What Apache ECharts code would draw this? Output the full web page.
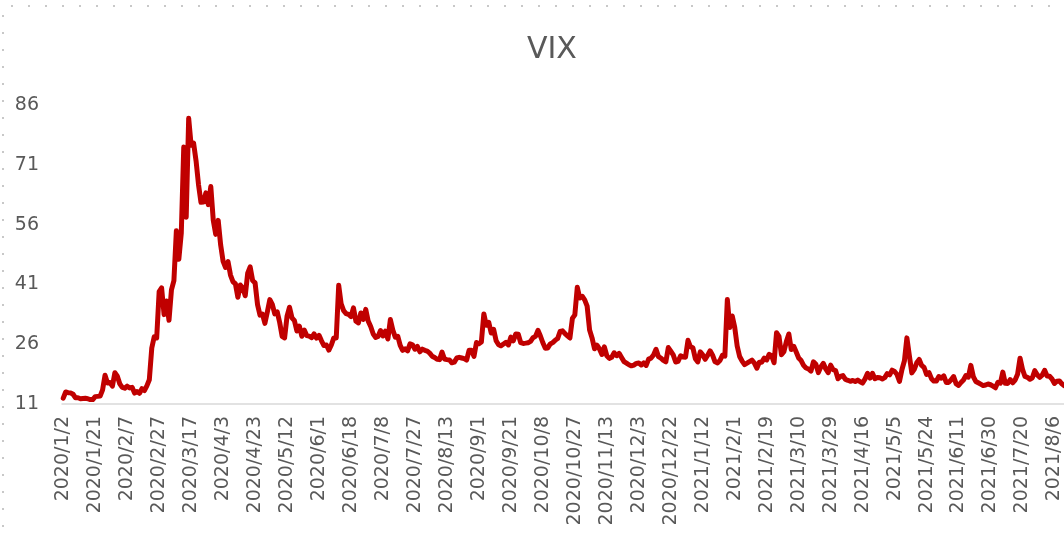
<!DOCTYPE html>
<html>
<head>
<meta charset="utf-8">
<script src="https://cdn.jsdelivr.net/npm/echarts@6/dist/echarts.min.js"></script>
<style>
  html, body { margin: 0; padding: 0; background: #fff; }
  #chart { width: 1064px; height: 541px; }
</style>
</head>
<body>
<div id="chart"></div>
<script>
// VIX daily close, one array per month (2020/1/20 is in the source series too)
const vix2020_01 = [12.47, 14.02, 13.85, 13.79, 13.45, 12.54, 12.56, 12.32, 12.39, 12.42, 12.32, 12.10, 12.10, 12.85, 12.91, 12.98, 14.56, 18.23, 16.28, 16.39, 15.49, 18.84];
const vix2020_02 = [17.97, 16.05, 15.15, 14.96, 15.47, 15.04, 15.18, 13.74, 14.15, 13.68, 14.83, 14.38, 15.56, 17.08, 25.03, 27.85, 27.56, 39.16, 40.11];
const vix2020_03 = [33.42, 36.82, 31.99, 39.62, 41.94, 54.46, 47.30, 53.90, 75.47, 57.83, 82.69, 75.91, 76.45, 72.00, 66.04, 61.59, 61.67, 63.95, 61.00, 65.54, 57.08, 53.54];
const vix2020_04 = [57.06, 50.91, 46.80, 45.24, 46.70, 43.35, 41.67, 41.17, 37.76, 40.84, 40.11, 38.15, 43.83, 45.41, 41.98, 41.38, 35.93, 33.29, 33.57, 31.23, 34.15];
const vix2020_05 = [37.19, 35.97, 33.61, 34.12, 31.44, 27.98, 27.57, 33.04, 35.28, 32.61, 31.89, 29.30, 30.53, 27.99, 29.53, 28.16, 28.01, 27.62, 28.59, 27.51];
const vix2020_06 = [28.23, 26.84, 25.66, 25.81, 24.52, 25.81, 27.57, 27.57, 40.79, 36.09, 34.40, 33.67, 33.47, 32.94, 35.12, 31.77, 31.37, 33.84, 32.22, 34.73, 31.78, 30.43];
const vix2020_07 = [28.62, 27.68, 27.94, 29.43, 28.08, 29.26, 27.29, 32.19, 29.52, 27.76, 28.00, 25.68, 24.46, 24.84, 24.32, 26.08, 25.84, 24.74, 25.44, 24.10, 24.76, 24.46];
const vix2020_08 = [24.28, 23.76, 22.99, 22.65, 22.21, 22.13, 24.03, 22.28, 22.13, 22.05, 21.35, 21.51, 22.54, 22.72, 22.54, 22.37, 22.03, 24.47, 24.47, 22.96, 26.41];
const vix2020_09 = [26.12, 26.57, 33.60, 30.75, 31.46, 28.81, 29.71, 26.87, 25.85, 25.59, 26.04, 26.46, 25.83, 27.78, 26.86, 28.58, 28.51, 26.38, 26.19, 26.27, 26.37];
const vix2020_10 = [26.70, 27.63, 27.96, 29.48, 28.06, 26.36, 25.00, 25.07, 26.07, 26.40, 26.97, 27.41, 29.18, 29.35, 28.65, 28.11, 27.55, 32.46, 33.35, 40.28, 37.59, 38.02];
const vix2020_11 = [37.13, 35.55, 29.57, 27.58, 24.86, 25.75, 24.80, 23.45, 25.35, 23.10, 22.45, 22.71, 23.84, 23.11, 23.70, 22.66, 21.64, 21.25, 20.84, 20.57];
const vix2020_12 = [20.77, 21.17, 21.28, 20.79, 21.30, 20.68, 22.27, 22.52, 23.31, 24.72, 22.89, 22.50, 21.93, 21.57, 25.16, 24.23, 23.31, 21.53, 21.70, 23.08, 22.77, 22.75];
const vix2021_01 = [26.97, 25.34, 25.07, 22.37, 21.56, 24.08, 23.33, 22.21, 23.25, 24.34, 23.24, 21.58, 21.32, 21.91, 23.19, 23.02, 37.21, 30.21, 33.09];
const vix2021_02 = [30.24, 25.56, 22.91, 21.77, 20.87, 21.24, 21.63, 21.99, 21.25, 19.97, 21.46, 21.50, 22.49, 22.05, 23.45, 23.11, 21.34, 28.89, 27.95];
const vix2021_03 = [23.35, 24.10, 26.67, 28.57, 24.66, 25.47, 24.03, 22.56, 21.91, 20.69, 20.03, 19.79, 19.23, 21.58, 20.95, 18.88, 20.30, 21.20, 19.81, 18.86, 20.74, 19.61, 19.40];
const vix2021_04 = [17.33, 17.91, 18.12, 17.16, 16.95, 16.69, 16.91, 16.65, 16.99, 16.57, 16.25, 17.30, 18.68, 17.50, 18.71, 17.33, 17.64, 17.56, 17.28, 17.61, 18.61];
const vix2021_05 = [18.31, 19.48, 19.15, 18.39, 16.69, 19.66, 21.84, 27.59, 23.13, 18.81, 19.72, 21.34, 22.18, 20.67, 20.15, 18.40, 18.84, 17.36, 16.74, 16.76];
const vix2021_06 = [17.90, 17.48, 18.04, 16.42, 16.42, 17.07, 17.89, 16.10, 15.65, 16.39, 17.02, 18.15, 17.75, 20.70, 17.89, 16.66, 16.32, 15.97, 15.62, 15.76, 16.02, 15.83];
const vix2021_07 = [15.48, 15.07, 16.44, 16.20, 19.00, 16.18, 16.17, 17.12, 16.33, 17.01, 18.45, 22.50, 19.73, 17.91, 17.69, 17.20, 17.58, 19.36, 18.31, 17.70, 18.24];
const vix2021_08 = [19.46, 18.04, 17.97, 17.28, 16.15, 16.72, 16.79, 16.06, 15.59, 15.45];

// market holidays left out of the date axis
const holidays = ['2020/2/17', '2020/4/10', '2020/5/25', '2020/7/3', '2020/9/7', '2020/11/26', '2020/12/25',
  '2021/1/1', '2021/1/18', '2021/2/15', '2021/4/2', '2021/5/31', '2021/7/5'];
const firstDay = '2020/1/2';
const lastDay = '2021/8/13';

const yTicks = [11, 26, 41, 56, 71, 86];

const values = [].concat(vix2020_01, vix2020_02, vix2020_03, vix2020_04, vix2020_05, vix2020_06,
  vix2020_07, vix2020_08, vix2020_09, vix2020_10, vix2020_11, vix2020_12,
  vix2021_01, vix2021_02, vix2021_03, vix2021_04, vix2021_05, vix2021_06, vix2021_07, vix2021_08);

// weekday calendar -> category labels like 2020/1/2
const dates = [];
for (let d = new Date(firstDay); d <= new Date(lastDay); d.setDate(d.getDate() + 1)) {
  const wd = d.getDay();
  if (wd === 0 || wd === 6) continue;
  const s = d.getFullYear() + '/' + (d.getMonth() + 1) + '/' + d.getDate();
  if (holidays.indexOf(s) >= 0) continue;
  dates.push(s);
}

const chart = echarts.init(document.getElementById('chart'));
const labelColor = '#595959';

chart.setOption({
  backgroundColor: '#FFFFFF',
  animation: false,
  title: {
    text: 'VIX',
    left: 522,
    top: 30,
    textStyle: {
      fontFamily: 'DejaVu Sans',
      fontSize: 30,
      fontWeight: 'normal',
      color: labelColor
    }
  },
  grid: {
    left: 62,
    right: -4,
    top: 105,
    bottom: 137,
    containLabel: false,
    outerBoundsMode: 'none'
  },
  xAxis: {
    type: 'category',
    data: dates,
    boundaryGap: true,
    axisLine: { lineStyle: { color: '#d9d9d9', width: 1.5 } },
    axisTick: { show: false },
    axisLabel: {
      interval: 12,
      rotate: 90,
      margin: 12,
      fontFamily: 'DejaVu Sans',
      fontSize: 19,
      color: labelColor
    },
    splitLine: { show: false }
  },
  yAxis: {
    type: 'value',
    min: yTicks[0],
    max: yTicks[yTicks.length - 1],
    interval: yTicks[1] - yTicks[0],
    axisLine: { show: false },
    axisTick: { show: false },
    splitLine: { show: false },
    axisLabel: {
      margin: 23,
      fontFamily: 'DejaVu Sans',
      fontSize: 19,
      color: labelColor
    }
  },
  series: [{
    name: 'VIX',
    type: 'line',
    data: values,
    showSymbol: false,
    lineStyle: { color: '#C00000', width: 5, join: 'round', cap: 'round' },
    itemStyle: { color: '#C00000' }
  }],
  // dotted chart-area border from the original screenshot
  graphic: [
    {
      type: 'line',
      shape: { x1: 11, y1: 6, x2: 1064, y2: 6 },
      style: { stroke: '#c8c8c8', lineWidth: 2, lineDash: [2, 15] }
    },
    {
      type: 'line',
      shape: { x1: 3, y1: 15, x2: 3, y2: 541 },
      style: { stroke: '#c8c8c8', lineWidth: 2, lineDash: [2, 15] }
    }
  ]
});
</script>
</body>
</html>
